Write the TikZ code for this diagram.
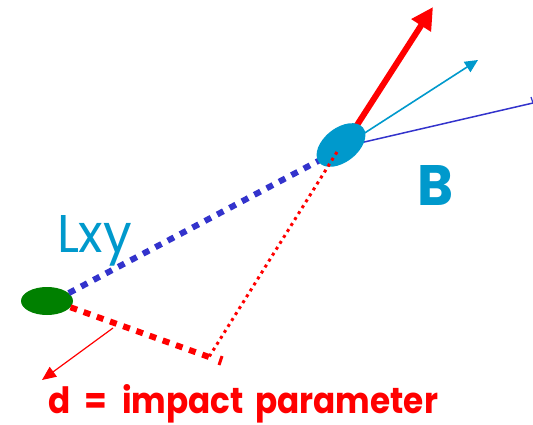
\documentclass[tikz,border=0pt]{standalone}
\usepackage{fontspec}
\setmainfont{Poppins}
\usetikzlibrary{shapes.geometric,arrows.meta}
\definecolor{cyanB}{RGB}{0,153,204}
\definecolor{blueL}{RGB}{51,51,204}
\definecolor{greenV}{RGB}{0,128,0}
\tikzset{
  vtx/.style={ellipse,inner sep=0pt},
  thickdash/.style={line width=6pt,dash pattern=on 7pt off 7pt},
  reddot/.style={red,line width=3pt,dash pattern=on 3pt off 4pt},
  lbl/.style={inner sep=0pt,outer sep=0pt}
}
\begin{document}
\begin{tikzpicture}[x=1pt,y=-1pt]
\useasboundingbox (0,0) rectangle (533,425);
% vertices
\node[vtx,fill=greenV,minimum width=52pt,minimum height=28pt] (pv) at (47,301) {};
% connectors coordinates
\coordinate (dend) at (209,357);
\coordinate (tick1) at (222,356);
\coordinate (tick2) at (219,365);
\coordinate (parr) at (113,328);
\coordinate (parrend) at (42,380);
\coordinate (redtip) at (433,7);
\coordinate (cyantip) at (478,60);
\coordinate (blueend) at (533,103);
% tracks
\draw[blueL,thickdash] (pv.20) -- (322,159);
\draw[red,line width=6pt,{Triangle[length=22pt,width=22pt]}-] (redtip) -- (350,136);
\draw[cyanB,line width=1.6pt,-{Triangle[length=13pt,width=12pt]}] (360,136) -- (cyantip);
\draw[blueL,line width=1.5pt] (360,143) -- (blueend);
\draw[blueL,line width=1.2pt] (blueend) -- (531,97);
% secondary vertex
\node[vtx,fill=cyanB,minimum width=56pt,minimum height=34pt,rotate=38] (sv) at (341,145) {};
% impact parameter lines
\draw[red,thickdash] (pv.-15) -- (dend);
\draw[reddot] (337,152) -- (dend);
\draw[red,line width=3pt] (tick1) -- (tick2);
\draw[red,line width=1.2pt,-{Triangle[length=14pt,width=12pt]}] (parr) -- (parrend);
% labels
\node[lbl,text=cyanB,anchor=south west] (B) at (417,205) {\resizebox{36pt}{40pt}{\bfseries B}};
\node[lbl,text=cyanB,anchor=base west] (L) at (57,252) {\resizebox{75pt}{37pt}{\fontseries{m}\selectfont Lxy}};
\node[lbl,text=red,anchor=base west] (d) at (48,413) {\resizebox{390pt}{29pt}{\fontseries{sb}\selectfont d\hspace{0.45em}=\hspace{0.45em}impact\hspace{0.35em}parameter}};
\end{tikzpicture}
\end{document}
